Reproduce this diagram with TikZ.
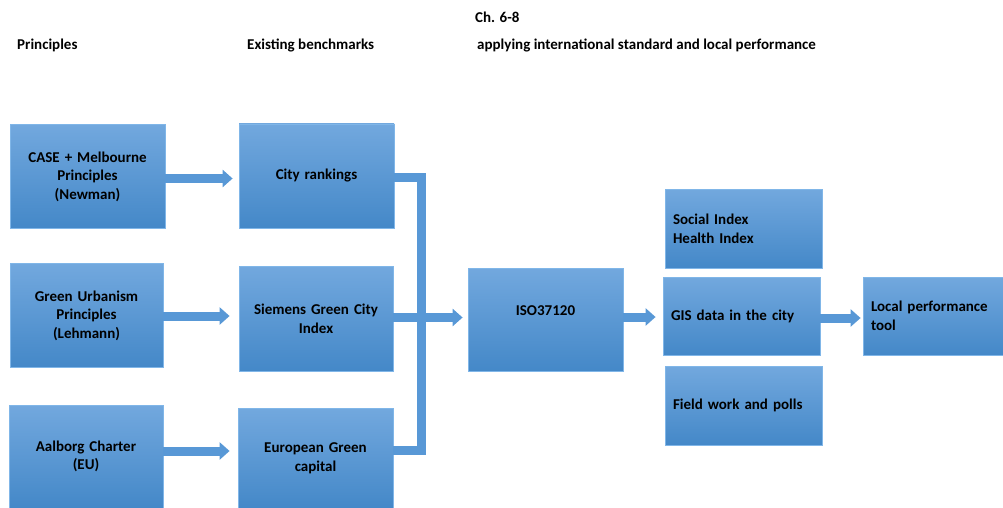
\documentclass[tikz,border=0pt]{standalone}
\usepackage{fontspec}
\setmainfont{Carlito}
\usetikzlibrary{arrows.meta}
\definecolor{bluetop}{RGB}{114,168,222}
\definecolor{bluebot}{RGB}{68,136,200}
\definecolor{blueedge}{RGB}{128,182,232}
\definecolor{arrowblue}{RGB}{88,152,214}
\begin{document}
\begin{tikzpicture}[x=1pt,y=-1pt,
  box/.style={draw=blueedge, line width=0.8pt, top color=bluetop, bottom color=bluebot,
    inner xsep=8pt, inner ysep=0pt, font=\bfseries\fontsize{15}{18.6}\selectfont, text=black},
  cbox/.style={box, align=center},
  lbox/.style={box, align=left},
  barrow/.style={draw=arrowblue, line width=9pt, -{Triangle[width=17pt,length=10pt]}},
  bar/.style={draw=arrowblue, line width=9pt, line join=miter},
  hdr/.style={font=\bfseries\fontsize{15}{18.6}\selectfont, anchor=base west, inner sep=0pt}
]
\useasboundingbox (0,0) rectangle (1003,508);

% headers
\node[hdr] (h0) at (475,22.5) {Ch. 6-8};
\node[hdr] (h1) at (17,49.5) {Principles};
\node[hdr] (h2) at (247,49.5) {Existing benchmarks};
\node[hdr] (h3) at (477,49.5) {applying international standard and local performance};

% left column
\node[cbox, minimum width=155pt, minimum height=104pt, text width=139pt] (case) at (87.5,176.5) {CASE + Melbourne\\Principles\\(Newman)};
\node[cbox, minimum width=153pt, minimum height=104pt, text width=137pt] (green) at (86.5,315.5) {Green Urbanism\\Principles\\(Lehmann)};
\node[cbox, minimum width=154pt, minimum height=103pt, text width=138pt] (aalborg) at (86,456.5) {Aalborg Charter\\(EU)};

% benchmarks
\node[cbox, minimum width=155pt, minimum height=104pt, text width=139pt] (city) at (316.5,176) {City rankings};
\node[cbox, minimum width=154pt, minimum height=105pt, text width=138pt] (siemens) at (316,318.5) {Siemens Green City\\Index};
\node[cbox, minimum width=155pt, minimum height=100pt, text width=139pt] (euro) at (315.5,458.5) {European Green\\capital};

% ISO
\node[cbox, minimum width=155pt, minimum height=103pt, text width=139pt] (iso) at (545.5,319.5) {ISO37120\\\mbox{}};

% right column
\node[lbox, minimum width=157pt, minimum height=79pt, text width=141pt] (social) at (743.5,228.5) {Social Index\\Health Index};
\node[lbox, minimum width=157pt, minimum height=78pt, text width=141pt] (gis) at (741.5,316) {GIS data in the city};
\node[lbox, minimum width=157pt, minimum height=79pt, text width=141pt] (field) at (743.5,405.5) {Field work and polls};
\node[lbox, minimum width=140pt, minimum height=78pt, text width=124pt] (local) at (933,316) {Local performance\\tool};

% arrows principles -> benchmarks
\draw[barrow, shorten >=6pt] ([yshift=-2pt]case.east) -- ([yshift=-2pt]case.east -| city.west);
\draw[barrow, shorten >=9pt] ([yshift=-0.5pt]green.east) -- ([yshift=-0.5pt]green.east -| siemens.west);
\draw[barrow, shorten >=8pt] ([yshift=5.5pt]aalborg.east) -- ([yshift=5.5pt]aalborg.east -| euro.west);

% bracket
\coordinate (jt) at (421.5,177.5);
\coordinate (jb) at (421.5,450.5);
\draw[bar] (city.east |- jt) -- (jt) -- (jb) -- (euro.east |- jb);
\draw[barrow, shorten >=5pt] ([yshift=1pt]siemens.east) -- ([yshift=1pt]siemens.east -| iso.west);

% ISO -> GIS -> Local
\draw[barrow, shorten >=7pt] ([yshift=2.5pt]iso.east) -- ([yshift=2.5pt]iso.east -| gis.west);
\draw[barrow, shorten >=2pt] ([yshift=-2pt]gis.east) -- ([yshift=-2pt]gis.east -| local.west);
\end{tikzpicture}
\end{document}
